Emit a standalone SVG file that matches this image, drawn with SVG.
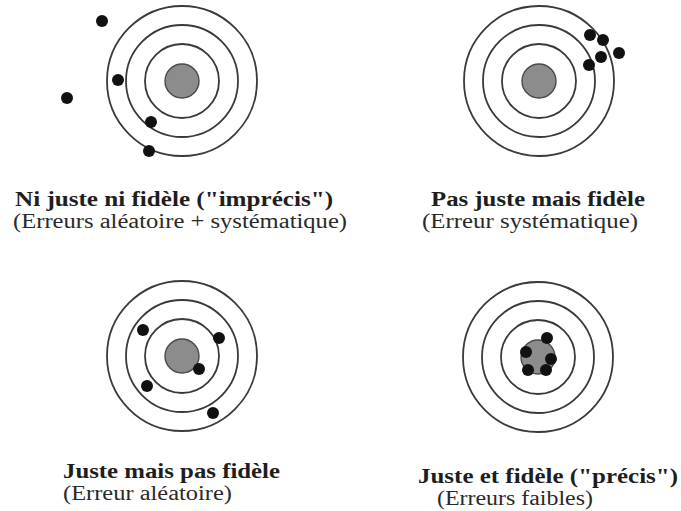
<svg xmlns="http://www.w3.org/2000/svg" width="681" height="511" viewBox="0 0 681 511">
<style>
.ring{fill:none;stroke:#3a3a3a;stroke-width:1.8}
.bull{fill:#8c8c8c;stroke:#4a4a4a;stroke-width:1.4}
.dot{fill:#111}
.t1{font-family:'Liberation Serif','Times New Roman',Times,serif;font-weight:bold;font-size:20px;fill:#1e1e1e}
.t2{font-family:'Liberation Serif','Times New Roman',Times,serif;font-size:20px;fill:#2a2a2a}
</style>
<defs>
<g id="target">
<circle class="ring" r="75"/>
<circle class="ring" r="56"/>
<circle class="ring" r="37"/>
<circle class="bull" r="17"/>
</g>
</defs>
<rect width="681" height="511" fill="#fff"/>
<g id="target1">
<use href="#target" x="182" y="81"/>
<circle class="dot" cx="102" cy="21" r="6"/>
<circle class="dot" cx="67" cy="98" r="6"/>
<circle class="dot" cx="118" cy="80" r="6"/>
<circle class="dot" cx="151" cy="122" r="6"/>
<circle class="dot" cx="149" cy="151" r="6"/>
<text class="t1" x="15" y="206" textLength="318" lengthAdjust="spacingAndGlyphs">Ni juste ni fidèle ("imprécis")</text>
<text class="t2" x="13" y="228" textLength="334" lengthAdjust="spacingAndGlyphs">(Erreurs aléatoire + systématique)</text>
</g>
<g id="target2">
<use href="#target" x="539" y="81"/>
<circle class="dot" cx="590" cy="35" r="6"/>
<circle class="dot" cx="603" cy="40" r="6"/>
<circle class="dot" cx="619" cy="53" r="6"/>
<circle class="dot" cx="601" cy="57" r="6"/>
<circle class="dot" cx="589" cy="65" r="6"/>
<text class="t1" x="431" y="206" textLength="214" lengthAdjust="spacingAndGlyphs">Pas juste mais fidèle</text>
<text class="t2" x="422" y="228" textLength="216" lengthAdjust="spacingAndGlyphs">(Erreur systématique)</text>
</g>
<g id="target3">
<use href="#target" x="182" y="356"/>
<circle class="dot" cx="143" cy="330" r="6"/>
<circle class="dot" cx="219" cy="338" r="6"/>
<circle class="dot" cx="199" cy="369" r="6"/>
<circle class="dot" cx="147" cy="386" r="6"/>
<circle class="dot" cx="213" cy="413" r="6"/>
<text class="t1" x="63" y="478" textLength="217" lengthAdjust="spacingAndGlyphs">Juste mais pas fidèle</text>
<text class="t2" x="63" y="500" textLength="169" lengthAdjust="spacingAndGlyphs">(Erreur aléatoire)</text>
</g>
<g id="target4">
<use href="#target" x="538" y="357"/>
<circle class="dot" cx="547" cy="338" r="6"/>
<circle class="dot" cx="526" cy="352" r="6"/>
<circle class="dot" cx="551" cy="359" r="6"/>
<circle class="dot" cx="528" cy="370" r="6"/>
<circle class="dot" cx="546" cy="370" r="6"/>
<text class="t1" x="418" y="483" textLength="260" lengthAdjust="spacingAndGlyphs">Juste et fidèle ("précis")</text>
<text class="t2" x="437" y="505" textLength="156" lengthAdjust="spacingAndGlyphs">(Erreurs faibles)</text>
</g>
<g id="connectors"/>
</svg>
